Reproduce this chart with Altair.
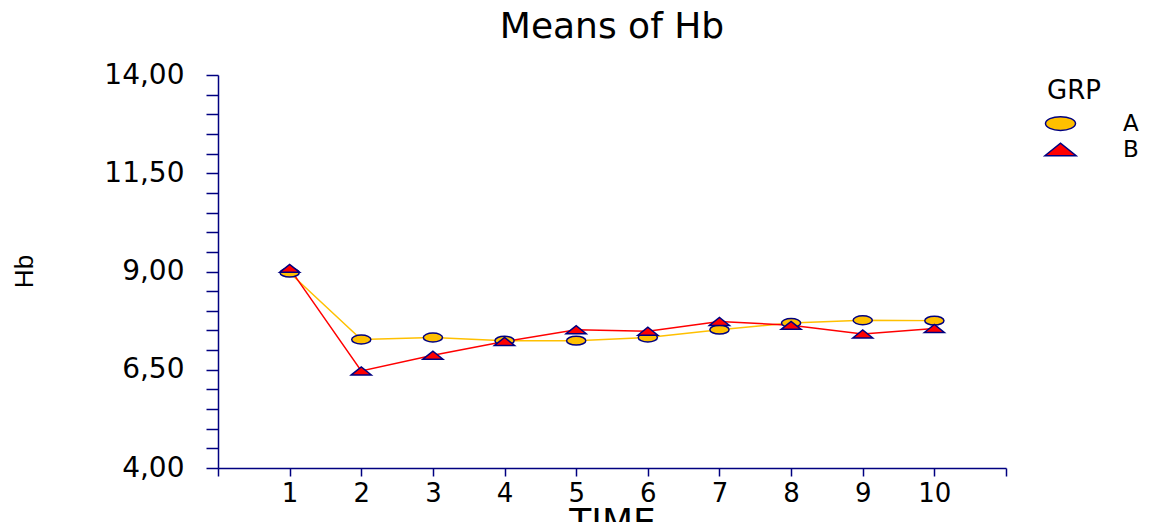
import altair as alt
import pandas as pd

time = [1, 2, 3, 4, 5, 6, 7, 8, 9, 10]
grp_a = [8.97, 7.27, 7.32, 7.24, 7.24, 7.32, 7.52, 7.69, 7.76, 7.75]
grp_b = [9.08, 6.47, 6.87, 7.22, 7.52, 7.48, 7.73, 7.63, 7.41, 7.55]
groups = ["A", "B"]
group_colors = ["#FFC000", "#FF0000"]
y_ticks = [4 + 0.5 * i for i in range(21)]
x_ticks = list(range(0, 12))

df = pd.DataFrame({
    "TIME": time + time,
    "Hb": grp_a + grp_b,
    "GRP": ["A"] * len(time) + ["B"] * len(time),
})

NAVY = "#000080"
FONT = "DejaVu Sans"
ellipse = "M -1.2 0 A 1.2 0.55 0 1 1 1.2 0 A 1.2 0.55 0 1 1 -1.2 0 Z"
triangle = "M -1.25 0.5 L 0 -0.5 L 1.25 0.5 Z"

x_enc = alt.X(
    "TIME:Q",
    scale=alt.Scale(domain=[0, 11], nice=False, zero=False),
    axis=alt.Axis(
        values=x_ticks, title="TIME",
        labelExpr="datum.value >= 1 && datum.value <= 10 ? datum.label : ''",
        grid=False, domainColor=NAVY, domainWidth=1.5, tickColor=NAVY, tickWidth=1.5,
        tickSize=8, labelPadding=4, labelFont=FONT, labelFontSize=26, labelColor="black",
        titleFont=FONT, titleFontSize=36, titleFontWeight="normal", titleColor="black",
        titleY=37, titleBaseline="top",
    ),
)
y_enc = alt.Y(
    "Hb:Q",
    scale=alt.Scale(domain=[4, 14], nice=False, zero=False),
    axis=alt.Axis(
        values=y_ticks, title="Hb",
        labelExpr="(round(datum.value*10) - 40) % 25 == 0 ? replace(format(datum.value, '.2f'), '.', ',') : ''",
        grid=False, domainColor=NAVY, domainWidth=1.5, tickColor=NAVY, tickWidth=1.5,
        tickSize=12, labelPadding=22, labelFont=FONT, labelFontSize=28, labelColor="black",
        titleFont="Liberation Sans", titleFontSize=26, titleFontWeight="normal", titleColor="black",
        titleX=-194, titleY=196, titleAngle=270, titleAlign="center", titleBaseline="middle",
    ),
)

line_layers = [
    alt.Chart(df).transform_filter(alt.datum.GRP == g).mark_line(strokeWidth=1.5, color=c)
    .encode(x=x_enc, y=y_enc)
    for g, c in zip(groups, group_colors)
]

legend_kw = dict(
    title="GRP", orient="none", legendX=829, legendY=3,
    titleFont=FONT, titleFontSize=26, titleFontWeight="normal", titleColor="black",
    titlePadding=6,
    labelFont=FONT, labelFontSize=23, labelColor="black", labelOffset=49,
    symbolSize=625, rowPadding=0,
    symbolStrokeColor=NAVY, symbolStrokeWidth=1.5,
)

points = alt.Chart(df).mark_point(
    filled=True, size=256, strokeWidth=1.5, opacity=1
).encode(
    x=x_enc, y=y_enc,
    shape=alt.Shape("GRP:N", scale=alt.Scale(domain=groups, range=[ellipse, triangle]),
                    legend=alt.Legend(**legend_kw)),
    fill=alt.Fill("GRP:N", scale=alt.Scale(domain=groups, range=group_colors),
                  legend=alt.Legend(**legend_kw)),
    stroke=alt.Stroke("GRP:N", scale=alt.Scale(domain=groups, range=[NAVY, NAVY]),
                      legend=alt.Legend(**legend_kw)),
)

chart = alt.layer(*line_layers, points).properties(
    width=788, height=393,
    autosize=alt.AutoSizeParams(type="none"),
    padding={"left": 210, "top": 67, "right": 151, "bottom": 54},
    title=alt.TitleParams(
        "Means of Hb", font=FONT, fontSize=36, fontWeight="normal", color="black",
        anchor="middle", offset=15,
    ),
).configure_view(stroke=None)

chart.save("out.html", embed_options={"renderer": "svg", "actions": False})
